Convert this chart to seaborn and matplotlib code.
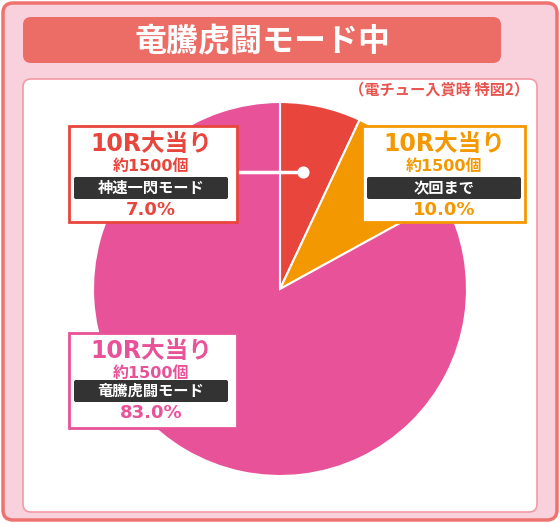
import matplotlib
matplotlib.use("Agg")
import matplotlib.pyplot as plt
from matplotlib.patches import FancyBboxPatch, Rectangle
import seaborn as sns

# データ
modes = ["神速一閃モード", "次回まで", "竜騰虎闘モード"]
shares = [7.0, 10.0, 83.0]
prize = "10R大当り"
payout = "約1500個"
title = "竜騰虎闘モード中"
note = "（電チュー入賞時 特図2）"

colors = ["#e8463d", "#f39800", "#e85298"]

sns.set_theme(style="white")
plt.rcParams['font.family'] = ['Noto Sans CJK JP', 'DejaVu Sans']
latin = ['DejaVu Sans', 'Noto Sans CJK JP']

W, H = 560, 523
fig = plt.figure(figsize=(W / 100, H / 100), dpi=100)

# 背景レイヤー（ピクセル座標）
bg = fig.add_axes([0, 0, 1, 1])
bg.set_xlim(0, W)
bg.set_ylim(H, 0)
bg.axis("off")

bg.add_patch(FancyBboxPatch((3, 3), W - 6, H - 6, boxstyle="round,pad=0,rounding_size=10",
                            fc="#f9d1dc", ec="#ee7370", lw=2.5))
bg.add_patch(FancyBboxPatch((23, 17), 478, 46, boxstyle="round,pad=0,rounding_size=8",
                            fc="#eb6d66", ec="none"))
bg.text(262, 41, title, color="white", fontsize=23, fontweight="bold", ha="center", va="center")
bg.add_patch(FancyBboxPatch((23, 79), 514, 433, boxstyle="round,pad=0,rounding_size=8",
                            fc="white", ec="#f39aa5", lw=1.2))
bg.text(529, 89, note, color="#e8554f", fontsize=11, fontweight="bold", ha="right", va="center")

# 円グラフ
pie_ax = fig.add_axes([93 / W, 47 / H, 374 / W, 374 / H])
pie_ax.pie(shares, colors=colors, startangle=90, counterclock=False,
           wedgeprops=dict(edgecolor="white", linewidth=1.5))
pie_ax.set_xlim(-1, 1)
pie_ax.set_ylim(-1, 1)
pie_ax.set_aspect("equal")

# 上に重ねるラベル層
top = fig.add_axes([0, 0, 1, 1])
top.set_xlim(0, W)
top.set_ylim(H, 0)
top.axis("off")
top.patch.set_alpha(0)

# 神速一閃の引き出し線
top.plot([236, 303], [172, 172], color="white", lw=2.5, zorder=2)
top.scatter([303], [172], s=60, color="white", zorder=3)

boxes = [
    (69, 126, 168, 96, 151, 177),
    (362, 126, 163, 96, 444, 177),
    (69, 333, 168, 95, 151, 380),
]
for (x, y, w, h, cx, by), mode, share, c in zip(boxes, modes, shares, colors):
    top.add_patch(Rectangle((x, y), w, h, fc="white", ec=c, lw=2, zorder=4))
    top.text(cx, y + 18, prize, color=c, fontsize=17, fontweight="bold",
             ha="center", va="center", zorder=5, family=latin)
    top.text(cx, y + 40, payout, color=c, fontsize=11.5, fontweight="bold",
             ha="center", va="center", zorder=5, family=latin)
    top.add_patch(FancyBboxPatch((cx - 77, by), 154, 22, boxstyle="round,pad=0,rounding_size=2",
                                 fc="#333333", ec="none", zorder=5))
    top.text(cx, by + 11, mode, color="white", fontsize=11, fontweight="bold",
             ha="center", va="center", zorder=6)
    top.text(cx, by + 33, f"{share:.1f}%", color=c, fontsize=13, fontweight="bold",
             ha="center", va="center", zorder=5, family=latin)

fig.savefig("out.png", dpi=100)
